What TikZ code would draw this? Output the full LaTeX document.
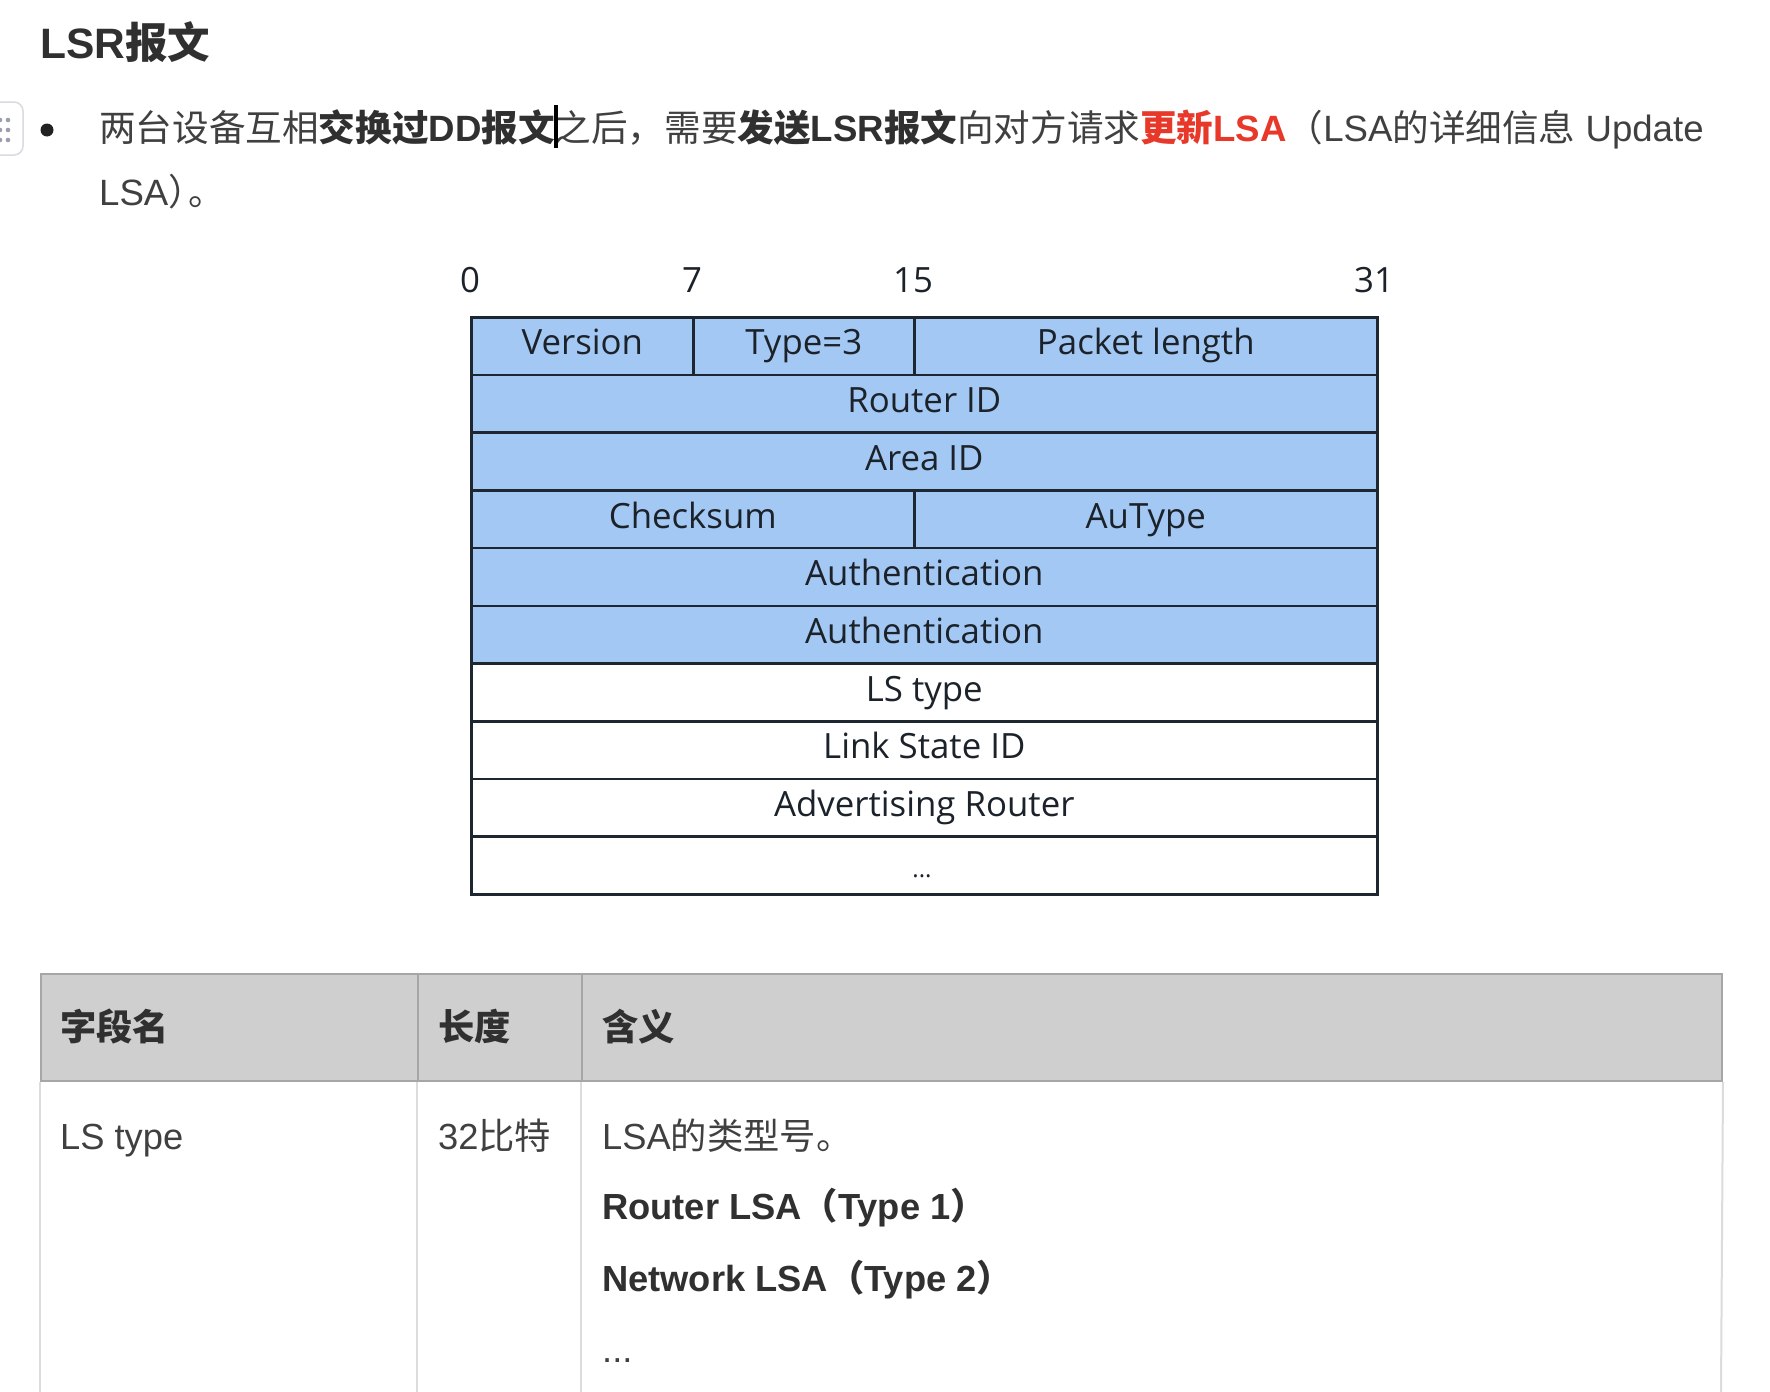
\documentclass[tikz,border=0pt]{standalone}
\usepackage{fontspec}
\setmainfont{Liberation Sans}
\newfontfamily\cjk{Noto Sans CJK SC}
\newfontfamily\diag{Open Sans}
\definecolor{cellblue}{RGB}{163,200,244}
\definecolor{cellline}{RGB}{30,38,48}
\definecolor{celltext}{RGB}{28,34,42}
\definecolor{bodytext}{RGB}{64,64,64}
\definecolor{boldtext}{RGB}{48,48,48}
\definecolor{redtext}{RGB}{232,56,42}
\definecolor{headfill}{RGB}{207,207,207}
\definecolor{headline}{RGB}{166,166,166}
\definecolor{bodyline}{RGB}{220,220,220}
\definecolor{handleline}{RGB}{218,218,224}
\definecolor{handledot}{RGB}{155,158,176}
\definecolor{bulletc}{RGB}{34,34,34}
\newcommand\myzh[1]{{\cjk #1}}
\newcommand\myzhb[1]{{\cjk\bfseries #1}}
\newcommand\diagfont{\diag\fontsize{34.8}{38}\selectfont}
\newcommand\webfont{\fontsize{36.6}{40}\selectfont}
\newcommand\tabfont{\fontsize{36.3}{40}\selectfont}
\begin{document}
\begin{tikzpicture}[x=1pt,y=-1pt,
  cell/.style={draw=cellline, line width=2.6pt, fill=cellblue, inner sep=0pt,
    anchor=north west, minimum height=57.7pt, text=celltext, font=\diagfont,
    text height=24.5pt, text depth=7pt},
  wcell/.style={cell, fill=white},
  bitlabel/.style={anchor=base, inner sep=0pt, text=celltext, font=\diagfont},
  webtext/.style={anchor=base west, inner sep=0pt, text=bodytext, font=\webfont},
  tabtext/.style={anchor=base west, inner sep=0pt, text=bodytext, font=\tabfont},
  headcell/.style={draw=headline, line width=2pt, fill=headfill, inner sep=0pt,
    anchor=north west, minimum height=107pt},
  bodyrule/.style={draw=bodyline, line width=2pt}]
\useasboundingbox (0,0) rectangle (1770,1392);
\fill[white] (0,0) rectangle (1770,1392);

% title
\node[anchor=base west, inner sep=0pt, text=boldtext, font=\fontsize{42.5}{46}\selectfont\bfseries]
  (title) at (40,58) {LSR\myzhb{报文}};

% drag handle
\node[draw=handleline, line width=1.5pt, fill=white, rounded corners=9pt,
  minimum width=36pt, minimum height=53pt, inner sep=0pt] (handle) at (5,128.5) {};
\foreach \yy in {120,130,140}{
  \fill[handledot] (0,\yy) circle (2.3);
  \fill[handledot] (8,\yy) circle (2.3);
}

% bullet
\node[circle, fill=bulletc, minimum size=13pt, inner sep=0pt] (bullet) at (47,130) {};

% line 1
\node[webtext] (line1) at (99,141) {\myzh{两台设备互相}{\color{boldtext}\myzhb{交换过}\bfseries DD\myzhb{报文}}\myzh{之后，需要}{\color{boldtext}\myzhb{发送}\bfseries LSR\myzhb{报文}}\myzh{向对方请求}{\color{redtext}\myzhb{更新}\bfseries LSA}\myzh{（}LSA\myzh{的详细信息} Update};
% cursor
\fill[black] (554,105) rectangle (557.5,148);
% line 2
\node[webtext] (line2) at (99,205) {LSA\myzh{）}\hspace{-16pt}\myzh{。}};

% bit numbers
\node[bitlabel] (b0) at (470,292) {0};
\node[bitlabel] (b7) at (692,292) {7};
\node[bitlabel] (b15) at (913,292) {15};
\node[bitlabel] (b31) at (1374,292) {31};

% packet format
\node[cell, minimum width=222pt] (ver) at (470,316) {Version};
\node[cell, minimum width=221pt] (typ) at (692,316) {Type=3};
\node[cell, minimum width=463pt] (plen) at (913,316) {Packet length};
\node[cell, minimum width=906pt] (rid) at (470,373.7) {Router ID};
\node[cell, minimum width=906pt] (aid) at (470,431.4) {Area ID};
\node[cell, minimum width=443pt] (cks) at (470,489.1) {Checksum};
\node[cell, minimum width=463pt] (aut) at (913,489.1) {AuType};
\node[cell, minimum width=906pt] (auth1) at (470,546.8) {Authentication};
\node[cell, minimum width=906pt] (auth2) at (470,604.5) {Authentication};
\node[wcell, minimum width=906pt] (lstype) at (470,662.2) {LS type};
\node[wcell, minimum width=906pt] (lsid) at (470,719.9) {Link State ID};
\node[wcell, minimum width=906pt] (adv) at (470,777.6) {Advertising Router};
\node[wcell, minimum width=906pt] (more) at (470,835.3) {};
\node[anchor=base, inner sep=0pt, text=celltext, font=\diag\fontsize{24}{26}\selectfont] (moretext) at (922,877) {...};

% table
\node[headcell, minimum width=377pt] (th1) at (40,973) {};
\node[headcell, minimum width=164pt] (th2) at (417,973) {};
\node[headcell, minimum width=1140pt] (th3) at (581,973) {};
\draw[bodyrule] (th1.south west) -- (40,1392);
\draw[bodyrule] (th2.south west) -- (417,1392);
\draw[bodyrule] (th3.south west) -- (581,1392);
\draw[bodyrule] (th3.south east) -- (1721,1392);

\node[tabtext, text=boldtext] (h1) at (60,1040) {\myzhb{字段名}};
\node[tabtext, text=boldtext] (h2) at (438,1040) {\myzhb{长度}};
\node[tabtext, text=boldtext] (h3) at (602,1040) {\myzhb{含义}};

\node[tabtext] (c1) at (60,1149) {LS type};
\node[tabtext] (c2) at (438,1149) {32\myzh{比特}};
\node[tabtext] (c3) at (602,1149) {LSA\myzh{的类型号。}};
\node[tabtext, text=boldtext, font=\tabfont\bfseries] (c4) at (602,1219) {Router LSA\myzhb{（}Type 1\myzhb{）}};
\node[tabtext, text=boldtext, font=\tabfont\bfseries] (c5) at (602,1291) {Network LSA\myzhb{（}Type 2\myzhb{）}};
\node[tabtext] (c6) at (602,1362) {...};
\end{tikzpicture}
\end{document}
